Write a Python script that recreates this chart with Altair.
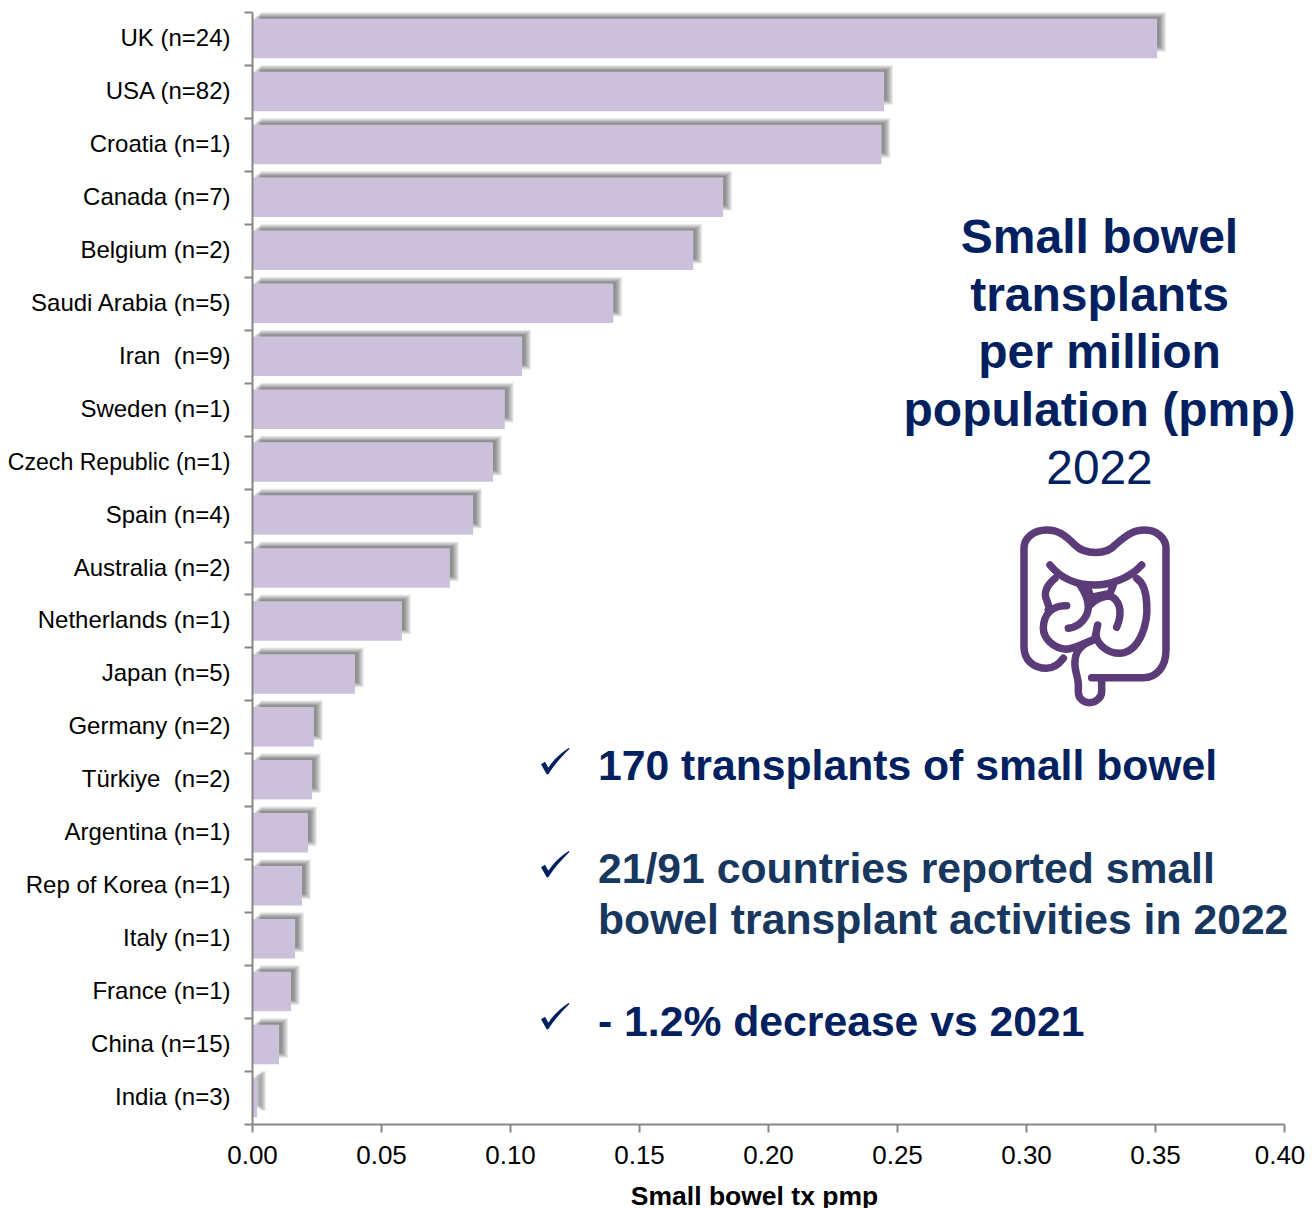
import re
import altair as alt
import pandas as pd

countries = ["UK (n=24)", "USA (n=82)", "Croatia (n=1)", "Canada (n=7)", "Belgium (n=2)",
             "Saudi Arabia (n=5)", "Iran\u00a0 (n=9)", "Sweden (n=1)", "Czech Republic (n=1)",
             "Spain (n=4)", "Australia (n=2)", "Netherlands (n=1)", "Japan (n=5)", "Germany (n=2)",
             "Türkiye\u00a0 (n=2)", "Argentina (n=1)", "Rep of Korea (n=1)", "Italy (n=1)",
             "France (n=1)", "China (n=15)", "India (n=3)"]
values = [0.3508, 0.245, 0.244, 0.1826, 0.171, 0.140, 0.1047, 0.098, 0.0934, 0.0857, 0.0767,
          0.0581, 0.0399, 0.024, 0.0233, 0.0217, 0.0194, 0.0167, 0.0151, 0.0105, 0.002]
x_ticks = [0.0, 0.05, 0.10, 0.15, 0.20, 0.25, 0.30, 0.35, 0.40]

title_lines = ["Small bowel", "transplants", "per million", "population (pmp)"]
year_line = "2022"
bullets = [("170 transplants of small bowel", 598, 780, "#002060"),
           ("21/91 countries reported small", 598, 883, "#17375E"),
           ("bowel transplant activities in 2022", 598, 934, "#17375E"),
           ("- 1.2% decrease vs 2021", 598, 1036, "#002060")]
shadow_y_insets = [0, 0.7, 1.4, 2.1, 2.8, 3.4, 4, 4.5, 5]
shadow_x_insets = [0, 0.8, 1.6, 2.4, 3.2, 4, 4.8, 5.6, 6.4]

df = pd.DataFrame({"country": countries, "value": values})
X0, Y0 = 252, 12
W, H = 1032, 1112
FONT = "Liberation Sans"
GRAY = "#868686"

x_enc = alt.X("value:Q", scale=alt.Scale(domain=[0, 0.4], nice=False),
              axis=alt.Axis(values=x_ticks, format=".2f", title="Small bowel tx pmp", grid=False,
                            domainColor=GRAY, domainWidth=2, tickColor=GRAY, tickWidth=2, tickSize=8,
                            labelFont=FONT, labelFontSize=26, labelColor="#000000", labelPadding=10,
                            labelOffset=alt.expr("datum.value == 0.4 ? -4.5 : 0"),
                            titleFont=FONT, titleFontSize=26.5, titleFontWeight="bold",
                            titleColor="#000000", titlePadding=15, titleX=502, labelFlush=False,
                            zindex=1))
y_enc = alt.Y("country:N", sort=countries,
              scale=alt.Scale(paddingInner=0, paddingOuter=0),
              axis=alt.Axis(title=None, grid=False, tickBand="extent", domainColor=GRAY, domainWidth=2,
                            tickColor=GRAY, tickWidth=2, tickSize=8, labelFont=FONT,
                            labelFontSize=alt.expr("datum.label == 'Czech Republic (n=1)' ? 23.1 : 24"),
                            labelColor="#000000", labelPadding=14, labelLimit=300, zindex=1))

layers = []
# soft shadow: nested translucent bars behind each bar
for yi, xi in zip(shadow_y_insets, shadow_x_insets):
    layers.append(
        alt.Chart(df).mark_bar(color="#000000", opacity=0.058, size=40 - 2 * yi,
                               xOffset=9 - xi, x2Offset=1 + xi * 1.4, yOffset=-6.5)
        .encode(x=x_enc, y=y_enc)
    )
layers.append(alt.Chart(df).mark_bar(color="#CCC1DA", size=39.5).encode(x=x_enc, y=y_enc))


def one_text(text, x, y, size, color, weight="normal"):
    return alt.Chart(alt.Data(values=[{}])).mark_text(
        text=text, font=FONT, fontSize=size, fontWeight=weight, color=color, align="center", baseline="alphabetic"
    ).encode(x=alt.value(x - X0), y=alt.value(y - Y0))


for i, line in enumerate(title_lines):
    layers.append(one_text(line, 1099.5, 253 + i * 57.7, 48, "#002060", "bold"))
layers.append(one_text(year_line, 1099.5, 484, 47.8, "#002060"))

for text, x, y, color in bullets:
    layers.append(
        alt.Chart(alt.Data(values=[{}])).mark_text(
            text=text, font=FONT, fontSize=42.7, fontWeight="bold", color=color, align="left", baseline="alphabetic"
        ).encode(x=alt.value(x - X0), y=alt.value(y - Y0))
    )


def rel(path, cx, cy):
    """Zoomed tracing coordinates -> pixels around the symbol's centre."""
    nums = iter(re.findall(r"[A-Za-z]|-?\d+\.?\d*", path))
    out, is_x = [], True
    for tok in nums:
        if tok.isalpha():
            out.append(tok)
            is_x = True
        else:
            v = (float(tok) - (cx if is_x else cy)) / 3
            out.append(f"{v:.2f}")
            is_x = not is_x
    return " ".join(out)


icon_paths = [
    "M275 503 L430 503 C470 503 498 470 498 420 L498 115 C498 85 470 60 435 60 C400 60 380 75 345 105 "
    "C320 135 255 135 225 105 C195 75 175 60 140 60 C100 60 72 85 72 115 L72 410 C72 450 100 475 140 475 "
    "C160 475 175 465 190 445",
    "M305 510 L305 545 C305 565 285 578 268 578 C250 578 235 565 235 545 L235 525 C235 500 222 480 225 455 "
    "C225 430 240 405 275 392 C290 388 288 360 293 345",
    "M288 375 C290 400 320 430 360 430 C420 425 445 340 440 280 C438 240 425 215 410 205",
    "M150 165 C190 215 240 225 285 225 C330 225 390 205 425 165",
    "M165 205 C140 225 130 250 140 270 C145 285 150 295 145 300",
    "M200 287 C160 285 130 310 130 355 C130 385 160 415 200 418 C225 415 250 400 275 392",
    "M240 225 C250 240 265 265 265 290 C265 320 240 350 205 355",
    "M262 228 L272 262 L330 250 L340 225",
    "M270 285 C285 268 310 258 330 258 C355 268 372 300 350 352",
]
for p in icon_paths:
    layers.append(
        alt.Chart(alt.Data(values=[{}])).mark_point(
            shape=rel(p, 285, 318), size=4, filled=False, stroke="#5B3B78", strokeWidth=7.5, opacity=1,
            strokeCap="round", strokeJoin="round"
        ).encode(x=alt.value(1095 - X0), y=alt.value(616 - Y0))
    )

check_path = "M33 88 L45 80 L55 98 C70 75 90 55 117 38 L118 42 C95 65 72 90 55 118 L50 118 Z"
for cy in [761, 864, 1016]:
    layers.append(
        alt.Chart(alt.Data(values=[{}])).mark_point(
            shape=rel(check_path, 75, 78), size=4, filled=True, fill="#002060", opacity=1, strokeWidth=0
        ).encode(x=alt.value(555 - X0), y=alt.value(cy - Y0))
    )

chart = alt.layer(*layers).properties(
    width=W, height=H, autosize=alt.AutoSizeParams(type="none"),
    padding={"left": X0 - 8, "top": Y0 - 8, "right": 22, "bottom": 88},
    background="#ffffff",
).configure_view(stroke=None)

chart.save("out.html", embed_options={"renderer": "svg", "actions": False})
